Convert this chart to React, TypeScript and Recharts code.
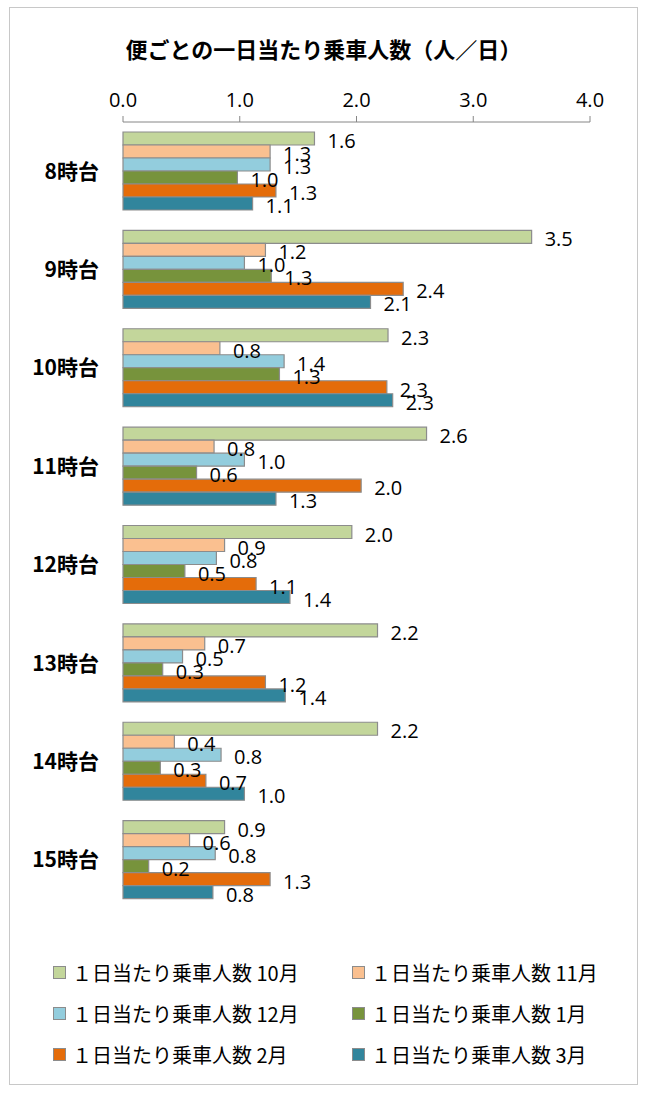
import React from 'react';
import { BarChart, Bar, XAxis, YAxis, LabelList } from 'recharts';

// 便ごとの一日当たり乗車人数（人／日）
const slots = ['8時台', '9時台', '10時台', '11時台', '12時台', '13時台', '14時台', '15時台'];
const months = ['10月', '11月', '12月', '1月', '2月', '3月'];
const colors = ['#C3D69B', '#FAC090', '#93CDDD', '#77933C', '#E46C0A', '#31859C'];

const oct = [1.64, 3.5, 2.27, 2.6, 1.96, 2.18, 2.18, 0.87];
const nov = [1.26, 1.22, 0.83, 0.78, 0.87, 0.7, 0.44, 0.57];
const dec = [1.26, 1.04, 1.38, 1.04, 0.8, 0.51, 0.84, 0.79];
const jan = [0.98, 1.27, 1.34, 0.63, 0.53, 0.34, 0.32, 0.22];
const feb = [1.31, 2.4, 2.26, 2.04, 1.14, 1.22, 0.71, 1.26];
const mar = [1.11, 2.12, 2.31, 1.31, 1.43, 1.39, 1.04, 0.77];

const xTicks = [0, 1, 2, 3, 4];
const slotEdges = [0, 1, 2, 3, 4, 5, 6, 7, 8];

const series = [oct, nov, dec, jan, feb, mar];
const keys = ['m10', 'm11', 'm12', 'm1', 'm2', 'm3'];

const data = slots.map((slot, i) => {
  const row: any = { slot };
  keys.forEach((k, j) => {
    row[k] = series[j][i];
  });
  return row;
});

const JP = '"Noto Sans CJK JP", "Noto Sans", sans-serif';
const NUM = '"Open Sans", "Noto Sans", sans-serif';
const AXIS = '#868686';

const chartProps = {
  width: 627,
  height: 940,
  data,
  layout: 'vertical' as const,
  margin: { top: 74, right: 47, bottom: 39, left: 13 },
  barCategoryGap: 10,
  barGap: 0,
};

const ValueLabel = (props: any) => {
  const { x, y, width, height, value } = props;
  return (
    <text
      x={x + width + 13}
      y={y + height / 2 + 2}
      dominantBaseline="central"
      fontSize={20}
      fontFamily={NUM}
      fill="#000"
    >
      {Number(value).toFixed(1)}
    </text>
  );
};

// bars + axes
function Bars() {
  return (
    <BarChart {...chartProps}>
      <XAxis
        type="number"
        orientation="top"
        domain={[0, 4]}
        ticks={xTicks}
        height={40}
        tickFormatter={(v) => v.toFixed(1)}
        tick={{ fill: '#000', fontSize: 20, fontFamily: NUM }}
        tickSize={6}
        tickMargin={9}
        axisLine={{ stroke: AXIS }}
        tickLine={{ stroke: AXIS }}
      />
      <YAxis
        yAxisId="edges"
        type="number"
        domain={[0, 8]}
        ticks={slotEdges}
        width={0}
        tickSize={5}
        tick={() => <g />}
        axisLine={{ stroke: AXIS }}
        tickLine={{ stroke: AXIS }}
      />
      <YAxis
        type="category"
        dataKey="slot"
        width={100}
        axisLine={false}
        tickLine={false}
        tickSize={0}
        tickMargin={24}
        tick={{ fill: '#000', fontSize: 21, fontWeight: 'bold', fontFamily: JP }}
      />
      {keys.map((k, j) => (
        <Bar
          key={k}
          dataKey={k}
          name={months[j]}
          fill={colors[j]}
          stroke="#8c8c8c"
          strokeWidth={1.2}
          isAnimationActive={false}
        />
      ))}
    </BarChart>
  );
}

// same scales, invisible bars, labels only (so every label sits above every bar)
function Labels() {
  return (
    <BarChart {...chartProps}>
      <XAxis type="number" orientation="top" domain={[0, 4]} ticks={xTicks} height={40} tick={false} axisLine={false} tickLine={false} />
      <YAxis yAxisId="edges" type="number" domain={[0, 8]} width={0} tick={false} axisLine={false} tickLine={false} />
      <YAxis type="category" dataKey="slot" width={100} tick={false} axisLine={false} tickLine={false} />
      {keys.map((k) => (
        <Bar key={k} dataKey={k} fill="none" stroke="none" isAnimationActive={false}>
          <LabelList dataKey={k} content={<ValueLabel />} />
        </Bar>
      ))}
    </BarChart>
  );
}

export default function App() {
  return (
    <div
      style={{
        position: 'absolute',
        left: 9,
        top: 7,
        width: 629,
        height: 1078,
        border: '1px solid #c8c8c8',
        boxSizing: 'border-box',
        background: '#fff',
      }}
    >
      <div
        style={{
          position: 'absolute',
          top: 24,
          left: 0,
          width: 627,
          textAlign: 'center',
          fontFamily: JP,
          fontWeight: 'bold',
          fontSize: 22,
          lineHeight: '32px',
        }}
      >
        便ごとの一日当たり乗車人数（人／日）
      </div>

      <div style={{ position: 'absolute', left: 0, top: 0 }}>
        <Bars />
      </div>
      <div style={{ position: 'absolute', left: 0, top: 0 }}>
        <Labels />
      </div>

      <div style={{ position: 'absolute', left: 0, top: 950, width: 627 }}>
        {months.map((m, j) => (
          <div
            key={m}
            style={{
              position: 'absolute',
              left: j % 2 === 0 ? 43 : 342,
              top: Math.floor(j / 2) * 41,
              height: 28,
              display: 'flex',
              alignItems: 'center',
              fontFamily: JP,
              fontSize: 20,
              whiteSpace: 'nowrap',
            }}
          >
            <span
              style={{
                display: 'inline-block',
                width: 11,
                height: 11,
                background: colors[j],
                border: '1px solid #8c8c8c',
                marginRight: 6,
              }}
            />
            {'１日当たり乗車人数 ' + m}
          </div>
        ))}
      </div>
    </div>
  );
}
